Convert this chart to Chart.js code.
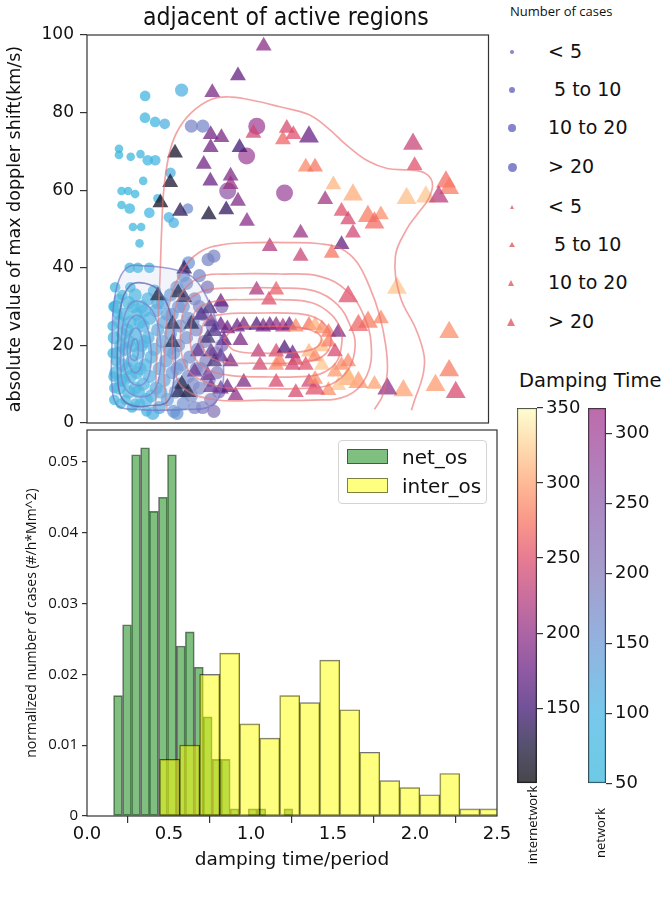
<!DOCTYPE html>
<html>
<head>
<meta charset="utf-8">
<script src="https://cdn.jsdelivr.net/npm/chart.js@4.4.1/dist/chart.umd.min.js"></script>
<style>
  body { margin: 0; background: #fff; width: 663px; height: 897px; position: relative; overflow: hidden; }
  .box { position: absolute; }
  .txt { position: absolute; white-space: pre; color: #111; font-family: "DejaVu Sans", sans-serif; line-height: 1; }
  #title { left: 143px; top: 5px; font-family: "DejaVu Sans Condensed", "DejaVu Sans", sans-serif; font-stretch: condensed; font-size: 24.5px; }
  .lg { position: absolute; font-family: "DejaVu Sans", sans-serif; font-size: 19px; line-height: 1; white-space: pre; color: #111; }
  .dot { position: absolute; border-radius: 50%; background: rgba(120,120,195,0.9); }
  .tri { position: absolute; width: 0; height: 0; border-style: solid; border-color: transparent transparent rgba(228,110,115,0.9) transparent; }
  #hleg { position: absolute; left: 338px; top: 440px; width: 147px; height: 62px; border: 1px solid #d4d4d4; border-radius: 4px; background: rgba(255,255,255,0.85); }
  .patch { position: absolute; width: 39px; height: 13px; border: 1px solid rgba(0,0,0,0.5); }
  .rot { position: absolute; transform: rotate(-90deg); transform-origin: center; white-space: nowrap; font-family: "Open Sans", sans-serif; color: #111; }
</style>
</head>
<body>
<div class="box" style="left:0px;top:0px"><canvas id="scatter" width="500" height="445"></canvas></div>
<div class="box" style="left:0px;top:410px"><canvas id="hist" width="528" height="461"></canvas></div>
<div class="box" style="left:510px;top:394px"><canvas id="cbInter" width="80" height="403"></canvas></div>
<div class="box" style="left:581px;top:394px"><canvas id="cbNet" width="82" height="403"></canvas></div>

<div id="title" class="txt">adjacent of active regions</div>

<div class="txt" style="left:510px;top:5px;font-family:'Open Sans',sans-serif;font-size:13px;">Number of cases</div>
<div id="caseLegend"></div>

<div id="hleg">
  <div class="patch" style="left:8px;top:8px;background:rgba(0,128,0,0.5)"></div>
  <div class="lg" style="left:63px;top:6px;font-size:20px">net_os</div>
  <div class="patch" style="left:8px;top:37px;background:rgba(255,255,0,0.5)"></div>
  <div class="lg" style="left:63px;top:35px;font-size:20px">inter_os</div>
</div>

<div class="txt" style="left:519px;top:371px;font-size:19.5px;">Damping Time</div>
<div class="rot" style="left:492px;top:816px;width:80px;text-align:center;font-size:13px">internetwork</div>
<div class="rot" style="left:560px;top:824px;width:80px;text-align:center;font-size:13px">network</div>

<script>
// ---- histogram (bottom panel) ----
// bin centres and normalized counts
const netBins = [0.189, 0.244, 0.299, 0.354, 0.408, 0.463, 0.518, 0.572, 0.627, 0.682,
                 0.736, 0.791, 0.846, 0.900, 0.955, 1.010, 1.064, 1.119, 1.174, 1.228];
const netOs = [0.017, 0.027, 0.051, 0.052, 0.043, 0.045, 0.051, 0.024, 0.026, 0.021,
               0.014, 0.008, 0.008, 0.001, null, 0.001, 0.001, null, null, 0.001];
const interBins = [0.504, 0.626, 0.748, 0.870, 0.992, 1.114, 1.236, 1.358, 1.480,
                   1.602, 1.724, 1.846, 1.968, 2.090, 2.212, 2.334, 2.456];
const interOs = [0.008, 0.010, 0.020, 0.023, 0.013, 0.011, 0.017, 0.016, 0.022,
                 0.015, 0.009, 0.005, 0.004, 0.003, 0.006, 0.001, 0.001];

const histXTicks = [0, 0.5, 1.0, 1.5, 2.0, 2.5];
const histYTicks = [0, 0.01, 0.02, 0.03, 0.04, 0.05];
const dopplerTicks = [0, 20, 40, 60, 80, 100];

// ---- scatter (top panel) ----
// [damping time/period, doppler shift, damping time, size class (0:<5 1:5-10 2:10-20 3:>20)]
const networkPts = [
  [0.362,84.3,70,1],[0.589,85.8,110,2],[0.361,78.7,70,1],[0.424,77.6,75,1],[0.484,77.1,110,1],
  [0.65,76.5,180,2],[0.721,76.5,175,2],[1.057,76.5,300,3],[0.994,68.8,295,3],[1.23,59.3,290,3],
  [0.876,59.8,260,3],[0.199,70.7,60,0],[0.199,69.1,60,0],[0.272,68.6,65,0],[0.333,69.3,70,0],
  [0.378,67.7,80,1],[0.425,67.7,90,1],[0.52,64.5,110,1],[0.35,62.4,70,0],[0.215,59.8,60,0],
  [0.256,59.8,60,0],[0.3,59,65,0],[0.215,56.2,60,0],[0.266,55.3,65,1],[0.388,54.2,80,1],
  [0.439,57.9,85,0],[0.51,53,100,1],[0.54,51.6,110,1],[0.628,55.3,165,1],[0.286,50.5,70,0],
  [0.337,50.5,70,0],[0.327,46.3,70,0],[0.266,40,65,1],[0.317,40,65,1],[0.388,40,75,1],
  [0.632,41.3,150,2],[0.754,42.1,180,2],
  [0.18,30,60,2],[0.2,26,58,2],[0.17,22,55,2],[0.19,18,60,2],[0.18,13,58,2],[0.2,9,60,2],[0.17,6,55,1],
  [0.22,33,65,1],[0.23,28,62,2],[0.22,23,60,2],[0.24,19,65,2],[0.22,15,62,2],[0.23,11,60,2],[0.24,6,65,1],
  [0.26,31,70,2],[0.27,26,68,2],[0.26,21,66,2],[0.28,16,70,2],[0.27,12,68,2],[0.26,8,66,2],[0.28,4,70,1],
  [0.3,33,75,2],[0.31,28,72,2],[0.3,23,78,2],[0.32,18,75,2],[0.31,13,72,2],[0.3,9,80,2],[0.33,5,78,1],
  [0.34,30,85,2],[0.35,25,82,2],[0.34,20,88,2],[0.36,15,85,2],[0.35,10,90,2],[0.37,6,92,2],
  [0.38,32,95,2],[0.39,27,100,2],[0.38,22,98,2],[0.4,17,102,2],[0.39,12,105,2],[0.4,7,100,2],
  [0.19,28,60,1],[0.21,20,58,2],[0.18,16,58,1],[0.21,11,60,2],[0.2,32,62,1],[0.25,24,64,2],
  [0.25,14,64,2],[0.29,20,70,2],[0.29,30,72,2],[0.33,26,80,2],[0.33,14,78,2],[0.32,8,76,2],
  [0.36,21,88,2],[0.36,29,90,2],[0.27,35,68,1],[0.21,5,60,1],[0.3,5,72,1],[0.37,3,90,1],
  [0.16,25,55,1],[0.16,18,55,1],[0.165,12,55,1],[0.165,30,55,1],[0.17,9,55,1],[0.175,35,58,1],
  [0.42,34,110,2],[0.43,29,115,2],[0.44,24,120,2],[0.42,19,112,2],[0.45,14,118,2],[0.43,9,115,2],[0.45,4,120,2],
  [0.47,31,125,2],[0.48,26,130,2],[0.47,21,128,2],[0.49,16,135,2],[0.48,11,130,2],[0.5,6,138,2],
  [0.52,33,140,2],[0.53,28,145,2],[0.52,23,142,2],[0.54,18,148,2],[0.53,13,145,2],[0.55,8,150,2],[0.54,3,148,2],
  [0.57,30,155,2],[0.58,25,160,2],[0.57,20,158,2],[0.59,15,162,2],[0.58,10,160,2],[0.6,5,165,2],
  [0.62,36,165,2],[0.63,27,170,2],[0.62,22,168,2],[0.64,17,172,2],[0.63,12,170,2],[0.65,7,175,2],
  [0.67,32,180,2],[0.68,24,185,2],[0.69,19,188,2],[0.68,14,182,2],[0.7,9,190,2],[0.72,28,195,2],
  [0.73,21,198,2],[0.74,16,200,2],[0.72,4,192,2],[0.76,11,205,2],[0.78,25,210,2],[0.8,18,212,2],
  [0.82,8,215,2],[0.79,3,208,2],[0.6,38,160,2],[0.7,38,170,2],[0.79,43,180,2],
  [0.44,31,118,2],[0.5,28,135,2],[0.56,35,150,2],[0.6,30,160,2],[0.66,26,178,2],[0.7,30,190,2],
  [0.75,35,198,2],[0.84,30,215,2],[0.66,10,180,2],[0.71,14,190,2],[0.77,6,205,2],[0.81,13,212,2],
  [0.84,20,218,2],[0.46,8,122,2],[0.51,19,140,2],[0.56,14,150,2],[0.61,8,165,2],[0.67,4,180,2],
  [0.56,2.5,150,2],[0.41,2.5,110,2]
];

const internetPts = [
  [1.10,97.2,195,2],[0.94,89.5,170,2],[0.78,85.2,185,2],[0.77,74.4,180,2],[0.837,73.6,185,2],
  [0.77,71,180,2],[0.548,69.6,115,2],[0.95,71,150,2],[0.727,66.7,180,2],[0.518,62,120,2],
  [0.768,62.4,175,2],[0.894,63.7,190,2],[0.894,61.5,205,2],[0.94,57.2,190,2],[0.457,56.8,110,2],
  [0.58,54.6,135,2],[0.758,53.7,120,2],[0.867,55,140,2],[0.996,52,195,2],[1.036,74.7,240,2],
  [1.244,76,245,2],[1.285,74.4,250,2],[1.22,73,265,2],[1.382,73.8,175,3],[1.362,66,285,2],
  [1.42,66,275,2],[2.03,71.9,235,3],[2.04,66.4,250,2],[2.235,62.2,270,3],[2.255,60.5,280,3],
  [1.99,57.9,315,3],[2.11,58.3,320,3],[2.19,58.3,225,3],[1.534,61.4,310,2],[1.656,58.8,305,3],
  [1.483,57.6,210,2],[1.585,54.6,250,2],[1.749,53.3,280,3],[1.83,53.7,290,2],[1.79,51.6,270,3],
  [1.626,52.4,245,2],[1.656,49,240,2],[1.33,49,205,2],[1.138,45.5,220,2],[1.585,46,170,2],
  [1.524,43.8,275,2],[1.33,43,235,2],[1.93,34.8,320,3],[1.626,32.6,250,3],[1.056,34.3,215,2],
  [1.178,34.3,260,2],[1.133,31.7,250,2],[2.255,23.4,290,3],[2.255,13.5,280,3],[2.296,7.9,245,3],
  [1.97,8.4,300,3],[2.17,9.7,295,3],[1.87,8.8,200,3],[1.79,10,300,2],[1.69,10.5,295,3],
  [1.626,11.3,305,3],[1.565,9.7,320,2],[1.503,8.4,290,2],[1.42,8.8,250,3],[1.382,10.5,240,2],
  [1.178,10.5,245,2],[1.75,26,280,3],[1.83,26.9,285,2],[1.69,25.2,265,3],[0.925,7.1,200,2],
  [0.976,10.5,190,2],[0.874,9.2,180,2],[0.833,8.8,175,2],[0.772,9.2,170,2],[0.59,10,120,2],
  [0.63,7.9,115,2],[0.57,7.9,125,2],[0.533,20.8,120,2],[0.533,25.5,118,2],[0.65,25.5,125,2],
  [0.441,32.8,110,2],[0.568,33.6,115,2],[0.605,32.4,130,2],[0.605,39.7,140,2],[0.762,29.5,145,2],
  [0.833,31.2,175,2],[0.711,27.8,155,2],[0.772,26.1,165,2],[0.833,25.2,175,2],[0.793,23.6,150,2],
  [0.752,21.9,140,2],[0.691,18.4,170,2],[0.772,18.4,165,2],[0.833,17.1,170,2],[0.793,15.8,145,2],
  [0.894,15.8,185,2],[0.67,13.2,175,2],[0.752,12.3,180,2],[0.874,24.3,180,2],[0.935,24.8,175,2],
  [0.976,25.2,185,2],[1.056,25.2,160,2],[1.097,24.8,185,2],[1.138,25.2,180,2],[1.178,25.2,200,2],
  [1.22,24.8,215,2],[1.26,25.2,180,2],[1.30,24.8,285,2],[1.382,25.2,275,2],[1.42,25.2,310,2],
  [1.463,24.3,290,2],[1.504,23.4,280,2],[1.565,23.4,185,2],[0.955,21.3,185,2],[0.853,21.3,170,2],
  [1.067,18.3,225,2],[1.178,18.3,245,2],[1.23,19.2,160,2],[1.28,17.9,180,2],[1.20,15.8,280,2],
  [1.30,16.2,245,2],[1.382,18.3,310,2],[1.42,17.1,285,2],[1.463,19.7,315,2],[1.504,20.9,280,2],
  [1.544,18.4,245,2],[1.585,14.9,290,2],[1.626,15.8,285,2],[1.626,12.3,315,2],[1.544,13.2,295,2],
  [1.463,14.9,320,2],[1.362,14.9,250,2],[1.28,14.9,240,2],[1.077,14.9,240,2],[1.178,14.9,285,2],
  [1.30,7.9,245,2],[1.42,11.3,290,2]
];

// KDE contour lines: [x, y] in data units
const interContours = [
  [[0.427,3.5],[0.43,12],[0.44,24],[0.455,38],[0.465,50],[0.478,60],[0.51,69],[0.56,75],[0.65,80],[0.78,83.5],
   [0.9,84],[1.05,83],[1.2,81.5],[1.38,79.5],[1.5,76],[1.62,71.5],[1.75,67.5],[1.87,65.6],[2.0,65.2],[2.1,64.5],
   [2.15,62],[2.13,58],[2.06,54],[1.99,49.9],[1.92,42.9],[1.95,32.6],[2.05,24],[2.10,17.1],[2.09,12],[2.04,5.9],[2.02,3.3]],
  [[0.5,3],[0.48,12],[0.49,22],[0.52,32],[0.59,39],[0.7,44],[0.85,46],[1.05,46.5],[1.25,46.5],[1.45,46.2],
   [1.58,45],[1.68,41.5],[1.76,35],[1.82,28],[1.86,20],[1.87,13],[1.84,7],[1.79,3.5]],
  [[0.53,22],[0.57,32],[0.7,37.5],[0.9,38.4],[1.2,38.4],[1.45,37.8],[1.62,34],[1.72,28],[1.77,20],[1.74,12],
   [1.62,7],[1.4,5.9],[1.1,5.9],[0.8,6],[0.6,9],[0.54,15],[0.53,22]],
  [[0.58,22],[0.61,30],[0.72,34],[0.95,34.8],[1.2,34.8],[1.42,34],[1.56,30.5],[1.64,25],[1.67,20],[1.63,14],
   [1.52,10],[1.35,8.9],[1.1,8.9],[0.85,9.2],[0.67,12],[0.6,16],[0.58,22]],
  [[0.64,22],[0.67,28.5],[0.78,31.2],[1.0,31.8],[1.2,31.8],[1.4,31],[1.52,28],[1.58,24],[1.585,20],[1.55,15.5],
   [1.45,12.6],[1.3,11.9],[1.1,11.9],[0.9,12.2],[0.74,14],[0.66,17.5],[0.64,22]],
  [[0.7,22],[0.74,26.5],[0.86,28.1],[1.05,28.3],[1.25,28.3],[1.4,27.5],[1.49,25],[1.52,21.5],[1.49,18],[1.4,16],
   [1.25,15.4],[1.05,15.4],[0.85,15.7],[0.75,17.5],[0.7,22]],
  [[0.85,21.5],[0.92,24.3],[1.1,24.9],[1.3,24.7],[1.42,23.5],[1.46,21.5],[1.42,19.3],[1.3,18.2],[1.1,18],
   [0.92,18.7],[0.85,21.5]]
];
const netContours = [
  [[0.155,20],[0.165,30],[0.2,37],[0.26,40.3],[0.35,40.5],[0.45,40.2],[0.55,39.5],[0.66,37.5],[0.75,32],[0.82,24],
   [0.85,15],[0.83,7.5],[0.76,4.2],[0.62,3.5],[0.45,3.3],[0.3,3.5],[0.19,4.5],[0.155,10],[0.155,20]],
  [[0.19,20],[0.21,30],[0.27,35.5],[0.36,36],[0.45,34],[0.52,28],[0.55,20],[0.54,11],[0.5,5.5],[0.4,4.5],
   [0.28,4.5],[0.21,7],[0.19,13],[0.19,20]],
  [[0.21,19],[0.23,27],[0.28,31],[0.35,31],[0.42,28],[0.46,20],[0.45,12],[0.4,7.5],[0.3,7],[0.23,9.5],[0.21,14],[0.21,19]],
  [[0.23,19],[0.25,25],[0.29,27.5],[0.34,27.3],[0.38,24],[0.4,19],[0.39,13],[0.35,10],[0.29,10],[0.25,12],[0.23,15],[0.23,19]],
  [[0.25,19],[0.27,23],[0.3,24.5],[0.33,23.5],[0.35,19],[0.34,15],[0.31,13],[0.28,13.5],[0.26,15.5],[0.25,19]],
  [[0.27,19],[0.29,21.5],[0.31,21.5],[0.32,19],[0.31,16.5],[0.29,16.2],[0.27,17],[0.27,19]]
];

// colour scales (damping time -> rgb)
const magmaStops = [[100,[0,0,4]],[125,[20,14,54]],[150,[59,15,112]],[175,[100,26,128]],[200,[140,41,129]],
  [225,[183,55,121]],[250,[222,73,104]],[275,[247,112,92]],[300,[254,159,109]],[325,[254,207,146]],[350,[252,253,191]]];
const netStops = [[50,[52,181,219]],[100,[67,179,227]],[150,[105,149,212]],[200,[129,120,185]],
  [250,[139,91,171]],[318,[165,50,140]]];

const caseLabels = ['< 5', ' 5 to 10', '10 to 20', '> 20'];
const netRadius = [4.3, 5.3, 6.6, 8.5];
const interRadius = [6.5, 7.8, 9.2, 11.5];

function cmap(stops, v) {
  if (v <= stops[0][0]) return stops[0][1];
  for (let i = 1; i < stops.length; i++) {
    if (v <= stops[i][0]) {
      const [a, ca] = stops[i - 1], [b, cb] = stops[i];
      const t = (v - a) / (b - a);
      return ca.map((c, k) => Math.round(c + (cb[k] - c) * t));
    }
  }
  return stops[stops.length - 1][1];
}
const rgba = (c, a) => `rgba(${c[0]},${c[1]},${c[2]},${a})`;

// legend for the scatter sizes
const legendBox = document.getElementById('caseLegend');
const legendY = [52, 90, 128, 167, 207, 245, 283, 322];
caseLabels.forEach((lab, i) => {
  const d = [4, 6, 7.5, 9][i];
  legendBox.insertAdjacentHTML('beforeend',
    `<div class="dot" style="left:${512 - d / 2}px;top:${legendY[i] - d / 2}px;width:${d}px;height:${d}px"></div>` +
    `<div class="lg" style="left:548px;top:${legendY[i] - 10}px">${lab}</div>`);
  const w = [5, 6, 7.5, 9.5][i];
  legendBox.insertAdjacentHTML('beforeend',
    `<div class="tri" style="left:${512 - w / 2}px;top:${legendY[i + 4] - w * 0.45}px;border-width:0 ${w / 2}px ${w * 0.87}px ${w / 2}px"></div>` +
    `<div class="lg" style="left:548px;top:${legendY[i + 4] - 10}px">${lab}</div>`);
});

const framePlugin = {
  id: 'frame',
  afterDatasetsDraw(chart) {
    const {ctx, chartArea: a} = chart;
    ctx.save();
    ctx.strokeStyle = '#333';
    ctx.lineWidth = 1.2;
    ctx.strokeRect(a.left, a.top, a.right - a.left, a.bottom - a.top);
    ctx.restore();
  }
};

const tickGrid = {drawOnChartArea: false, drawTicks: true, tickLength: 7, tickColor: '#333', lineWidth: 1.2};

// ---- top scatter ----
const contourSets = [];
netContours.forEach((c, i) => contourSets.push({
  type: 'scatter', showLine: true, data: c.map(p => ({x: p[0], y: p[1]})),
  borderColor: i === 1 ? 'rgba(80,75,160,0.75)' : 'rgba(110,110,200,0.65)', borderWidth: 1.6,
  pointRadius: 0, tension: 0.4, fill: i === 0 ? 'shape' : false,
  backgroundColor: 'rgba(175,200,235,0.18)', order: 0
}));
interContours.forEach(c => contourSets.push({
  type: 'scatter', showLine: true, data: c.map(p => ({x: p[0], y: p[1]})),
  borderColor: 'rgba(235,105,105,0.6)', borderWidth: 1.7,
  pointRadius: 0, tension: 0.4, fill: false, order: 0
}));

new Chart(document.getElementById('scatter'), {
  type: 'scatter',
  data: {
    datasets: [
      ...contourSets,
      {
        label: 'internetwork',
        data: internetPts.map(p => ({x: p[0], y: p[1], t: p[2], n: p[3]})),
        pointStyle: 'triangle',
        pointRadius: c => c.raw ? interRadius[c.raw.n] : 8,
        backgroundColor: c => c.raw ? rgba(cmap(magmaStops, c.raw.t), 0.72) : 'gray',
        borderWidth: 0, order: 1
      },
      {
        label: 'network',
        data: networkPts.map(p => ({x: p[0], y: p[1], t: p[2], n: p[3]})),
        pointStyle: 'circle',
        pointRadius: c => c.raw ? netRadius[c.raw.n] : 5,
        backgroundColor: c => c.raw ? rgba(cmap(netStops, c.raw.t), 0.72) : 'gray',
        borderWidth: 0, order: 2
      }
    ]
  },
  options: {
    responsive: false, animation: false, events: [],
    layout: {padding: {top: 35, right: 3, bottom: 22, left: 0}},
    plugins: {legend: {display: false}, tooltip: {enabled: false}},
    scales: {
      x: {type: 'linear', min: 0, max: 2.5, display: false},
      y: {
        min: 0, max: 100,
        afterBuildTicks: s => { s.ticks = dopplerTicks.map(v => ({value: v})); },
        afterFit: s => { s.width = 87; },
        grid: tickGrid, border: {display: false},
        ticks: {color: '#111', padding: 6, font: {family: 'DejaVu Sans', size: 17}},
        title: {display: true, text: 'absolute value of max doppler shift(km/s)', color: '#111',
                padding: {top: 5}, font: {family: 'DejaVu Sans', size: 17.5}}
      }
    }
  },
  plugins: [framePlugin]
});

// ---- bottom histogram ----
new Chart(document.getElementById('hist'), {
  type: 'bar',
  data: {
    datasets: [
      {
        label: 'inter_os', xAxisID: 'x2',
        data: interBins.map((b, i) => ({x: b, y: interOs[i]})),
        backgroundColor: 'rgba(255,255,0,0.5)', borderColor: 'rgba(0,0,0,0.55)',
        borderWidth: 1, borderSkipped: false, grouped: false,
        barPercentage: 1, categoryPercentage: 1, clip: 0, order: 0
      },
      {
        label: 'net_os', xAxisID: 'x',
        data: netBins.map((b, i) => ({x: b, y: netOs[i]})),
        backgroundColor: 'rgba(0,128,0,0.5)', borderColor: 'rgba(0,0,0,0.55)',
        borderWidth: 1, borderSkipped: false, grouped: false,
        barPercentage: 1, categoryPercentage: 1, clip: 0, order: 1
      }
    ]
  },
  options: {
    responsive: false, animation: false, events: [],
    layout: {padding: {top: 20, right: 31, bottom: 0, left: 0}},
    plugins: {legend: {display: false}, tooltip: {enabled: false}},
    scales: {
      x: {
        type: 'linear', min: 0, max: 2.5, offset: false,
        afterBuildTicks: s => { s.ticks = histXTicks.map(v => ({value: v})); },
        afterFit: s => { s.height = 55; },
        grid: tickGrid, border: {display: false},
        ticks: {color: '#111', padding: 1, font: {family: 'DejaVu Sans', size: 18}, callback: v => v.toFixed(1)},
        title: {display: true, text: 'damping time/period', color: '#111', padding: {bottom: 0},
                font: {family: 'DejaVu Sans', size: 18.5}}
      },
      x2: {type: 'linear', min: 0, max: 2.5, offset: false, display: false, ticks: {stepSize: 0.5}},
      y: {
        min: 0, max: 0.0545,
        afterBuildTicks: s => { s.ticks = histYTicks.map(v => ({value: v})); },
        afterFit: s => { s.width = 87; },
        grid: {...tickGrid, tickLength: 5}, border: {display: false},
        ticks: {color: '#111', padding: 4, font: {family: 'Open Sans', size: 15},
                callback: v => v === 0 ? '0' : v.toFixed(2)},
        title: {display: true, text: 'normalized number of cases (#/h*Mm^2)', color: '#111',
                padding: {top: 24}, font: {family: 'Open Sans', size: 14}}
      }
    }
  },
  plugins: [framePlugin]
});

// ---- colour bars ----
function colorBar(id, stops, lo, hi, ticks) {
  new Chart(document.getElementById(id), {
    type: 'bar',
    data: {
      labels: [''],
      datasets: [{
        data: [[lo, hi]],
        barPercentage: 1, categoryPercentage: 1,
        borderWidth: 1, borderColor: '#333', borderSkipped: false,
        backgroundColor: c => {
          const a = c.chart.chartArea;
          if (!a) return 'gray';
          const g = c.chart.ctx.createLinearGradient(0, a.bottom, 0, a.top);
          stops.forEach(([v, col]) => {
            const f = (v - lo) / (hi - lo);
            if (f >= 0 && f <= 1) g.addColorStop(f, rgba(col, 0.72));
          });
          return g;
        }
      }]
    },
    options: {
      responsive: false, animation: false, events: [],
      layout: {padding: {top: 14, bottom: 6, left: 7, right: 0}},
      plugins: {legend: {display: false}, tooltip: {enabled: false}},
      scales: {
        x: {display: false},
        y: {
          position: 'right', min: lo, max: hi,
          afterBuildTicks: s => { s.ticks = ticks.map(v => ({value: v})); },
          afterFit: s => { s.width = s.chart.width - 7 - (id === 'cbNet' ? 18 : 20); },
          grid: {...tickGrid, tickLength: 6}, border: {display: false},
          ticks: {color: '#111', padding: 3, font: {family: 'DejaVu Sans', size: 18}}
        }
      }
    }
  });
}
const interBarTicks = [150, 200, 250, 300, 350];
const netBarTicks = [50, 100, 150, 200, 250, 300];
colorBar('cbInter', magmaStops, 100, 350, interBarTicks);
colorBar('cbNet', netStops, 50, 318, netBarTicks);
</script>
</body>
</html>
